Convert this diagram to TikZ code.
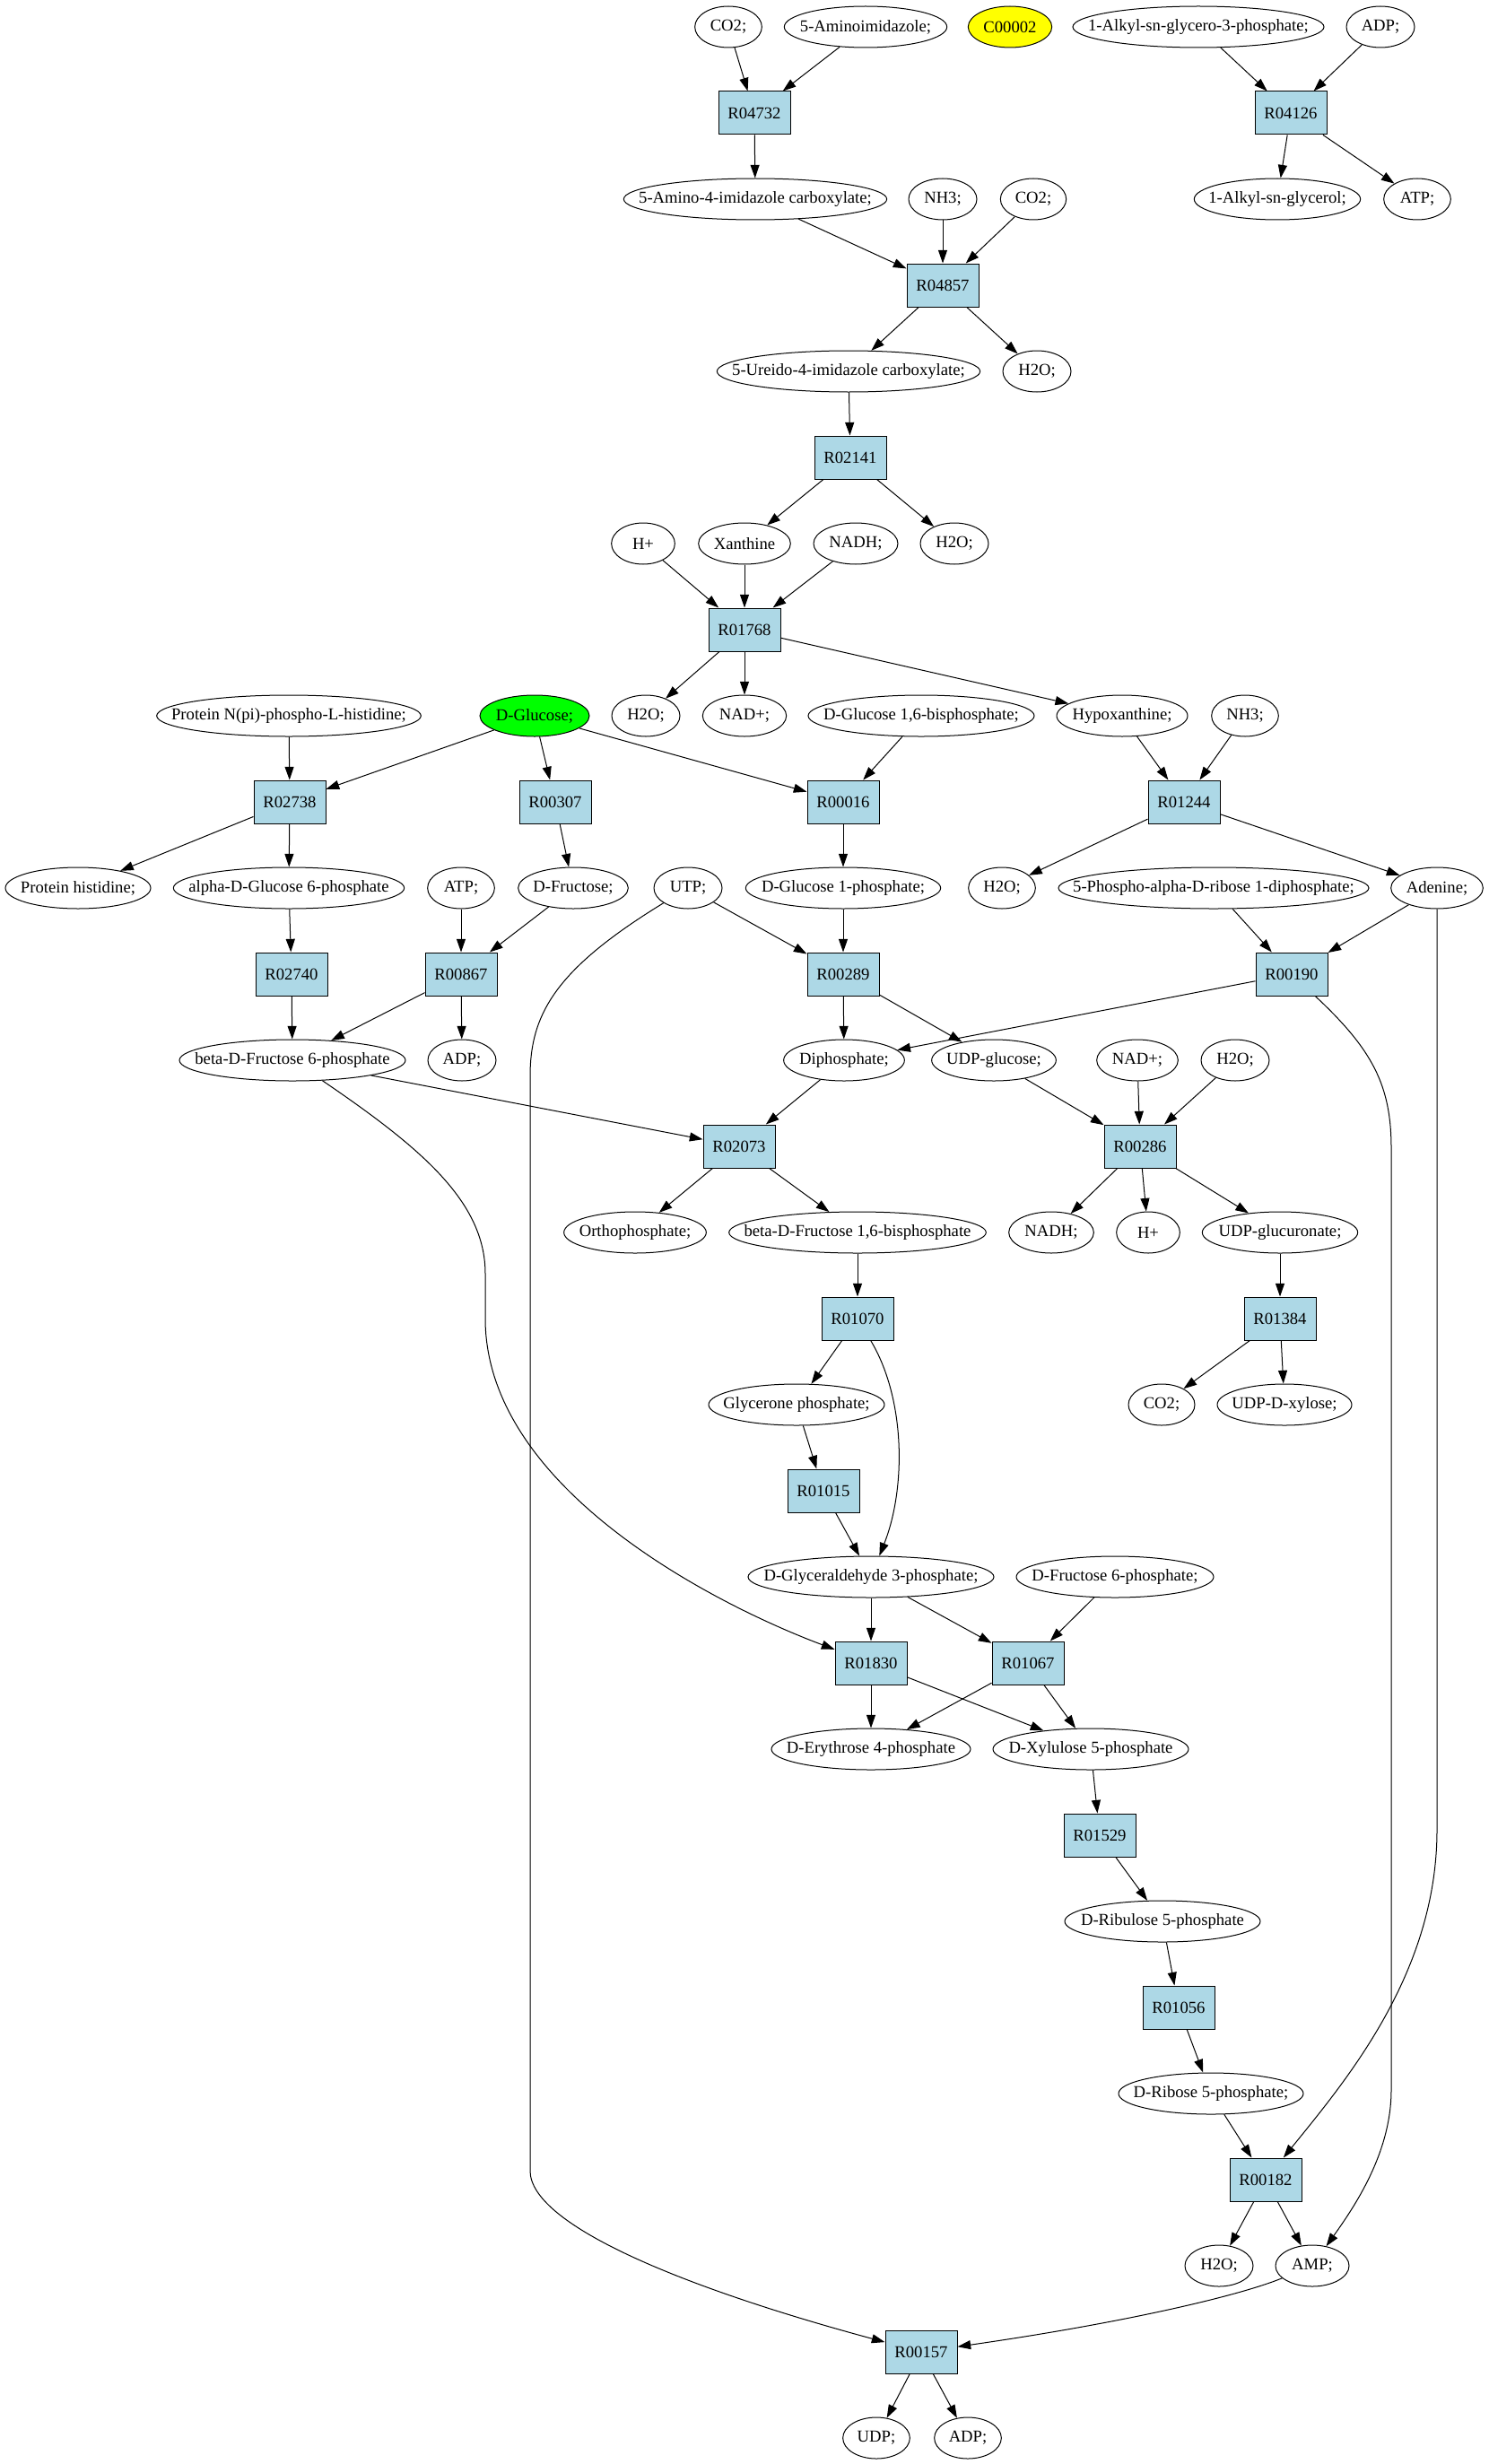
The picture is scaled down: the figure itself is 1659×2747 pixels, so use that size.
\documentclass[tikz,border=0pt]{standalone}
\usepackage{fontspec}
\setmainfont{Liberation Serif}
\usetikzlibrary{arrows.meta,shapes.geometric}
\definecolor{rxnblue}{RGB}{173,216,230}
\definecolor{seedgreen}{RGB}{0,255,0}
\definecolor{hiyellow}{RGB}{255,255,0}
\newcommand{\cname}[1]{\makebox[0pt]{#1}}
\tikzset{
  every node/.style={font=\fontsize{14}{16}\selectfont},
  mol/.style={ellipse, draw, line width=0.75pt, inner sep=0pt, minimum height=34.5pt},
  rxn/.style={rectangle, draw, line width=0.75pt, fill=rxnblue, inner sep=0pt, minimum width=60pt, minimum height=36pt},
  arr/.style={-{Triangle[length=11pt,width=7.5pt]}, line width=0.75pt}
}
\begin{document}
\begin{tikzpicture}[x=0.75pt,y=-0.75pt]
\useasboundingbox (0,0) rectangle (1659,2747);
\node[mol, minimum width=56pt] (co2a) at (812,30) {\cname{CO2;}};
\node[mol, minimum width=136pt] (aminoimid) at (965,30) {\cname{5-Aminoimidazole;}};
\node[mol, minimum width=70pt, fill=hiyellow] (c00002) at (1126,30) {\cname{C00002}};
\node[mol, minimum width=210pt] (alkylgp) at (1336,30) {\cname{1-Alkyl-sn-glycero-3-phosphate;}};
\node[mol, minimum width=57pt] (adpa) at (1539,30) {\cname{ADP;}};
\node[rxn] (r04732) at (841,126) {R04732};
\node[rxn] (r04126) at (1439,126) {R04126};
\node[mol, minimum width=220pt] (aica) at (842,222) {\cname{5-Amino-4-imidazole carboxylate;}};
\node[mol, minimum width=57pt] (nh3a) at (1051,222) {\cname{NH3;}};
\node[mol, minimum width=55pt] (co2b) at (1152,222) {\cname{CO2;}};
\node[mol, minimum width=139pt] (alkylg) at (1424,222) {\cname{1-Alkyl-sn-glycerol;}};
\node[mol, minimum width=56pt] (atpa) at (1580,222) {\cname{ATP;}};
\node[rxn] (r04857) at (1051,318) {R04857};
\node[mol, minimum width=220pt] (uaica) at (946,414) {\cname{5-Ureido-4-imidazole carboxylate;}};
\node[mol, minimum width=57pt] (h2oa) at (1156,414) {\cname{H2O;}};
\node[rxn] (r02141) at (948,510) {R02141};
\node[mol, minimum width=53pt] (hpa) at (717,606) {\cname{H+}};
\node[mol, minimum width=77pt] (xanthine) at (830,606) {\cname{Xanthine}};
\node[mol, minimum width=70.5pt] (nadha) at (954,606) {\cname{NADH;}};
\node[mol, minimum width=57pt] (h2ob) at (1064,606) {\cname{H2O;}};
\node[rxn] (r01768) at (830,702) {R01768};
\node[mol, minimum width=221pt] (protnpi) at (322,798) {\cname{Protein N(pi)-phospho-L-histidine;}};
\node[mol, minimum width=91.5pt, fill=seedgreen] (glucose) at (596,798) {\cname{D-Glucose;}};
\node[mol, minimum width=57pt] (h2oc) at (720,798) {\cname{H2O;}};
\node[mol, minimum width=70pt] (nada) at (830,798) {\cname{NAD+;}};
\node[mol, minimum width=189pt] (glc16bp) at (1027,798) {\cname{D-Glucose 1,6-bisphosphate;}};
\node[mol, minimum width=109.5pt] (hypox) at (1251,798) {\cname{Hypoxanthine;}};
\node[mol, minimum width=56pt] (nh3b) at (1388,798) {\cname{NH3;}};
\node[rxn] (r02738) at (323,894) {R02738};
\node[rxn] (r00307) at (619,894) {R00307};
\node[rxn] (r00016) at (940,894) {R00016};
\node[rxn] (r01244) at (1320,894) {R01244};
\node[mol, minimum width=121.5pt] (prothis) at (87,990) {\cname{Protein histidine;}};
\node[mol, minimum width=193pt] (aglc6p) at (322,990) {\cname{alpha-D-Glucose 6-phosphate}};
\node[mol, minimum width=56pt] (atpb) at (514,990) {\cname{ATP;}};
\node[mol, minimum width=92pt] (fructose) at (639,990) {\cname{D-Fructose;}};
\node[mol, minimum width=57pt] (utp) at (767,990) {\cname{UTP;}};
\node[mol, minimum width=163pt] (glc1p) at (940,990) {\cname{D-Glucose 1-phosphate;}};
\node[mol, minimum width=56pt] (h2od) at (1117,990) {\cname{H2O;}};
\node[mol, minimum width=259.5pt] (prpp) at (1353,990) {\cname{5-Phospho-alpha-D-ribose 1-diphosphate;}};
\node[mol, minimum width=77pt] (adenine) at (1602,990) {\cname{Adenine;}};
\node[rxn] (r02740) at (325,1086) {R02740};
\node[rxn] (r00867) at (514,1086) {R00867};
\node[rxn] (r00289) at (940,1086) {R00289};
\node[rxn] (r00190) at (1440,1086) {R00190};
\node[mol, minimum width=189pt] (bfru6p) at (326,1182) {\cname{beta-D-Fructose 6-phosphate}};
\node[mol, minimum width=57pt] (adpb) at (515,1182) {\cname{ADP;}};
\node[mol, minimum width=101pt] (diphos) at (941,1182) {\cname{Diphosphate;}};
\node[mol, minimum width=104pt] (udpglc) at (1108,1182) {\cname{UDP-glucose;}};
\node[mol, minimum width=68pt] (nadb) at (1268,1182) {\cname{NAD+;}};
\node[mol, minimum width=57pt] (h2oe) at (1377,1182) {\cname{H2O;}};
\node[rxn] (r02073) at (824,1278) {R02073};
\node[rxn] (r00286) at (1271,1278) {R00286};
\node[mol, minimum width=119pt] (orthop) at (708,1374) {\cname{Orthophosphate;}};
\node[mol, minimum width=215pt] (bfru16bp) at (956,1374) {\cname{beta-D-Fructose 1,6-bisphosphate}};
\node[mol, minimum width=71pt] (nadhb) at (1172,1374) {\cname{NADH;}};
\node[mol, minimum width=53pt] (hpb) at (1280,1374) {\cname{H+}};
\node[mol, minimum width=130pt] (udpglca) at (1427,1374) {\cname{UDP-glucuronate;}};
\node[rxn] (r01070) at (956,1470) {R01070};
\node[rxn] (r01384) at (1427,1470) {R01384};
\node[mol, minimum width=147pt] (glycerone) at (888,1566) {\cname{Glycerone phosphate;}};
\node[mol, minimum width=55.5pt] (co2c) at (1295,1566) {\cname{CO2;}};
\node[mol, minimum width=112.5pt] (udpxyl) at (1432,1566) {\cname{UDP-D-xylose;}};
\node[rxn] (r01015) at (918,1662) {R01015};
\node[mol, minimum width=205.5pt] (gap) at (971,1758) {\cname{D-Glyceraldehyde 3-phosphate;}};
\node[mol, minimum width=165pt] (fru6p) at (1243,1758) {\cname{D-Fructose 6-phosphate;}};
\node[rxn] (r01830) at (971,1854) {R01830};
\node[rxn] (r01067) at (1146,1854) {R01067};
\node[mol, minimum width=166.5pt] (ery4p) at (971,1950) {\cname{D-Erythrose 4-phosphate}};
\node[mol, minimum width=163.5pt] (xyl5p) at (1216,1950) {\cname{D-Xylulose 5-phosphate}};
\node[rxn] (r01529) at (1226,2046) {R01529};
\node[mol, minimum width=163.5pt] (rul5p) at (1296,2142) {\cname{D-Ribulose 5-phosphate}};
\node[rxn] (r01056) at (1314,2238) {R01056};
\node[mol, minimum width=154.5pt] (rib5p) at (1350,2334) {\cname{D-Ribose 5-phosphate;}};
\node[rxn] (r00182) at (1411,2430) {R00182};
\node[mol, minimum width=57pt] (h2of) at (1359,2526) {\cname{H2O;}};
\node[mol, minimum width=61.5pt] (amp) at (1463,2526) {\cname{AMP;}};
\node[rxn] (r00157) at (1027,2622) {R00157};
\node[mol, minimum width=56pt] (udp) at (977,2718) {\cname{UDP;}};
\node[mol, minimum width=56pt] (adpc) at (1079,2718) {\cname{ADP;}};
\draw[arr] (co2a) -- (r04732);
\draw[arr] (aminoimid) -- (r04732);
\draw[arr] (r04732) -- (aica);
\draw[arr] (alkylgp) -- (r04126);
\draw[arr] (adpa) -- (r04126);
\draw[arr] (r04126) -- (alkylg);
\draw[arr] (r04126) -- (atpa);
\draw[arr] (aica) -- (r04857);
\draw[arr] (nh3a) -- (r04857);
\draw[arr] (co2b) -- (r04857);
\draw[arr] (r04857) -- (uaica);
\draw[arr] (r04857) -- (h2oa);
\draw[arr] (uaica) -- (r02141);
\draw[arr] (r02141) -- (xanthine);
\draw[arr] (r02141) -- (h2ob);
\draw[arr] (hpa) -- (r01768);
\draw[arr] (xanthine) -- (r01768);
\draw[arr] (nadha) -- (r01768);
\draw[arr] (r01768) -- (h2oc);
\draw[arr] (r01768) -- (nada);
\draw[arr] (r01768) -- (hypox);
\draw[arr] (protnpi) -- (r02738);
\draw[arr] (glucose) -- (r02738);
\draw[arr] (glucose) -- (r00307);
\draw[arr] (glucose) -- (r00016);
\draw[arr] (glc16bp) -- (r00016);
\draw[arr] (hypox) -- (r01244);
\draw[arr] (nh3b) -- (r01244);
\draw[arr] (r02738) -- (prothis);
\draw[arr] (r02738) -- (aglc6p);
\draw[arr] (r00307) -- (fructose);
\draw[arr] (r00016) -- (glc1p);
\draw[arr] (r01244) -- (h2od);
\draw[arr] (r01244) -- (adenine);
\draw[arr] (aglc6p) -- (r02740);
\draw[arr] (atpb) -- (r00867);
\draw[arr] (fructose) -- (r00867);
\draw[arr] (utp) -- (r00289);
\draw[arr] (glc1p) -- (r00289);
\draw[arr] (prpp) -- (r00190);
\draw[arr] (adenine) -- (r00190);
\draw[arr] (r02740) -- (bfru6p);
\draw[arr] (r00867) -- (bfru6p);
\draw[arr] (r00867) -- (adpb);
\draw[arr] (r00289) -- (diphos);
\draw[arr] (r00289) -- (udpglc);
\draw[arr] (r00190) -- (diphos);
\draw[arr] (bfru6p) -- (r02073);
\draw[arr] (diphos) -- (r02073);
\draw[arr] (udpglc) -- (r00286);
\draw[arr] (nadb) -- (r00286);
\draw[arr] (h2oe) -- (r00286);
\draw[arr] (r02073) -- (orthop);
\draw[arr] (r02073) -- (bfru16bp);
\draw[arr] (r00286) -- (nadhb);
\draw[arr] (r00286) -- (hpb);
\draw[arr] (r00286) -- (udpglca);
\draw[arr] (bfru16bp) -- (r01070);
\draw[arr] (udpglca) -- (r01384);
\draw[arr] (r01070) -- (glycerone);
\draw[arr] (r01070) .. controls (1010,1560) and (1010,1660) .. (gap);
\draw[arr] (r01384) -- (co2c);
\draw[arr] (r01384) -- (udpxyl);
\draw[arr] (glycerone) -- (r01015);
\draw[arr] (r01015) -- (gap);
\draw[arr] (gap) -- (r01830);
\draw[arr] (gap) -- (r01067);
\draw[arr] (fru6p) -- (r01067);
\draw[arr] (bfru6p) .. controls (470,1280) and (541,1340) .. (541,1420) -- (541,1470) .. controls (541,1660) and (800,1790) .. (r01830);
\draw[arr] (r01830) -- (ery4p);
\draw[arr] (r01830) -- (xyl5p);
\draw[arr] (r01067) -- (ery4p);
\draw[arr] (r01067) -- (xyl5p);
\draw[arr] (xyl5p) -- (r01529);
\draw[arr] (r01529) -- (rul5p);
\draw[arr] (rul5p) -- (r01056);
\draw[arr] (r01056) -- (rib5p);
\draw[arr] (rib5p) -- (r00182);
\draw[arr] (adenine) -- (1602,2040) .. controls (1602,2200) and (1500,2320) .. (r00182);
\draw[arr] (r00182) -- (h2of);
\draw[arr] (r00182) -- (amp);
\draw[arr] (r00190) .. controls (1530,1170) and (1551,1210) .. (1551,1280) -- (1551,2330) .. controls (1551,2400) and (1510,2460) .. (amp);
\draw[arr] (utp) .. controls (620,1080) and (591,1130) .. (591,1200) -- (591,2420) .. controls (591,2480) and (760,2550) .. (r00157);
\draw[arr] (amp) .. controls (1380,2560) and (1250,2590) .. (r00157);
\draw[arr] (r00157) -- (udp);
\draw[arr] (r00157) -- (adpc);
\end{tikzpicture}
\end{document}
